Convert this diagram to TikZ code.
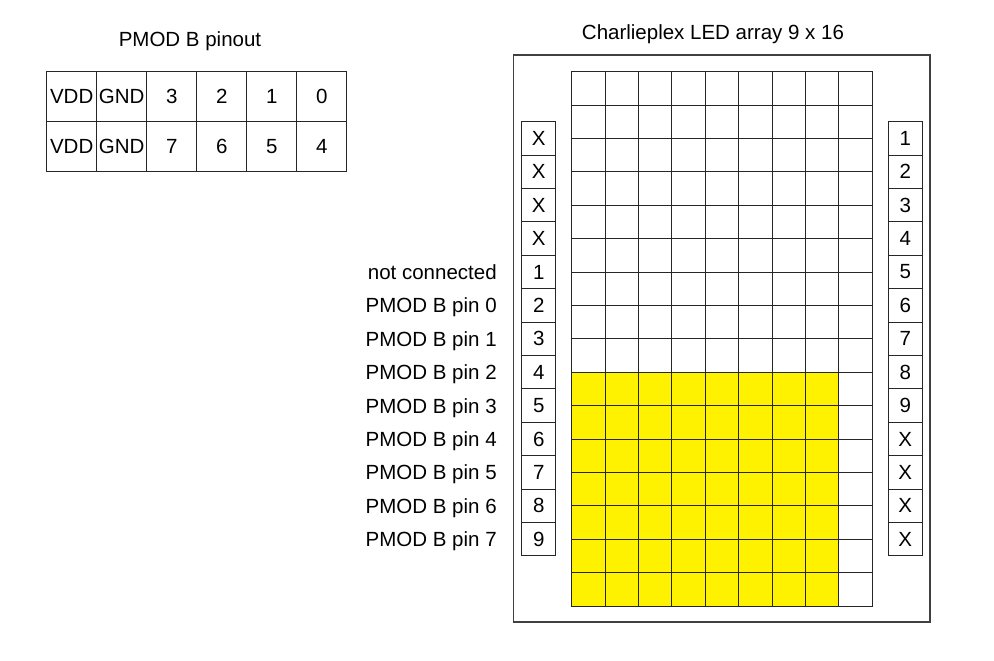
\documentclass[tikz,border=0pt]{standalone}
\usepackage{fontspec}
\setmainfont{Liberation Sans}
\begin{document}
\begin{tikzpicture}[x=1pt,y=-1pt,font=\fontsize{20.5}{24}\selectfont,
  cellbox/.style={draw=black!85,line width=1pt,minimum width=33.4pt,minimum height=33.4pt,inner sep=0pt,outer sep=0pt,anchor=north west},
  pinbox/.style={draw=black!85,line width=1pt,minimum width=34pt,minimum height=33.4pt,inner sep=0pt,outer sep=0pt,anchor=north west},
  tabcell/.style={draw=black!85,line width=1pt,minimum width=50pt,minimum height=50pt,inner sep=0pt,outer sep=0pt,anchor=north west},
  framebox/.style={draw=black!75,line width=1.8pt,inner sep=0pt,outer sep=0pt,anchor=north west},
  rowlabel/.style={anchor=base east,inner sep=0pt}]
\useasboundingbox (0,0) rectangle (994,661);
% titles
\node[anchor=base,inner sep=0pt] (t1) at (190,47) {PMOD B pinout};
\node[anchor=base,inner sep=0pt] (t2) at (713,40) {Charlieplex LED array 9 x 16};
% pinout table
\foreach \txt [count=\c from 0] in {VDD,GND,3,2,1,0}
  \node[tabcell] (ta-\c) at ({46.7+50*\c},71.7) {\txt};
\foreach \txt [count=\c from 0] in {VDD,GND,7,6,5,4}
  \node[tabcell] (tb-\c) at ({46.7+50*\c},121.7) {\txt};
% frame
\node[framebox,minimum width=416.5pt,minimum height=566.7pt] (frame) at (513.5,55) {};
% LED grid
\foreach \r in {0,...,15}{\foreach \c in {0,...,8}{
  \pgfmathtruncatemacro\on{(\r>8)&&(\c<8)}
  \ifnum\on=1 \def\cf{yellow}\else\def\cf{white}\fi
  \node[cellbox,fill=\cf] (g-\r-\c) at ({571.7+33.4*\c},{71.7+33.4*\r}) {};
}}
% left pins
\foreach \txt [count=\i from 0] in {X,X,X,X,1,2,3,4,5,6,7,8,9}
  \node[pinbox] (lp-\i) at (521.7,{121.7+33.4*\i}) {\txt};
% right pins
\foreach \txt [count=\i from 0] in {1,2,3,4,5,6,7,8,9,X,X,X,X}
  \node[pinbox] (rp-\i) at (888.3,{121.7+33.4*\i}) {\txt};
% row labels
\foreach \txt [count=\i from 4] in {not connected,PMOD B pin 0,PMOD B pin 1,PMOD B pin 2,PMOD B pin 3,PMOD B pin 4,PMOD B pin 5,PMOD B pin 6,PMOD B pin 7}
  \node[rowlabel] (lab-\i) at ([xshift=-24.8pt,yshift=-7.4pt]lp-\i.west) {\txt};
\end{tikzpicture}
\end{document}
